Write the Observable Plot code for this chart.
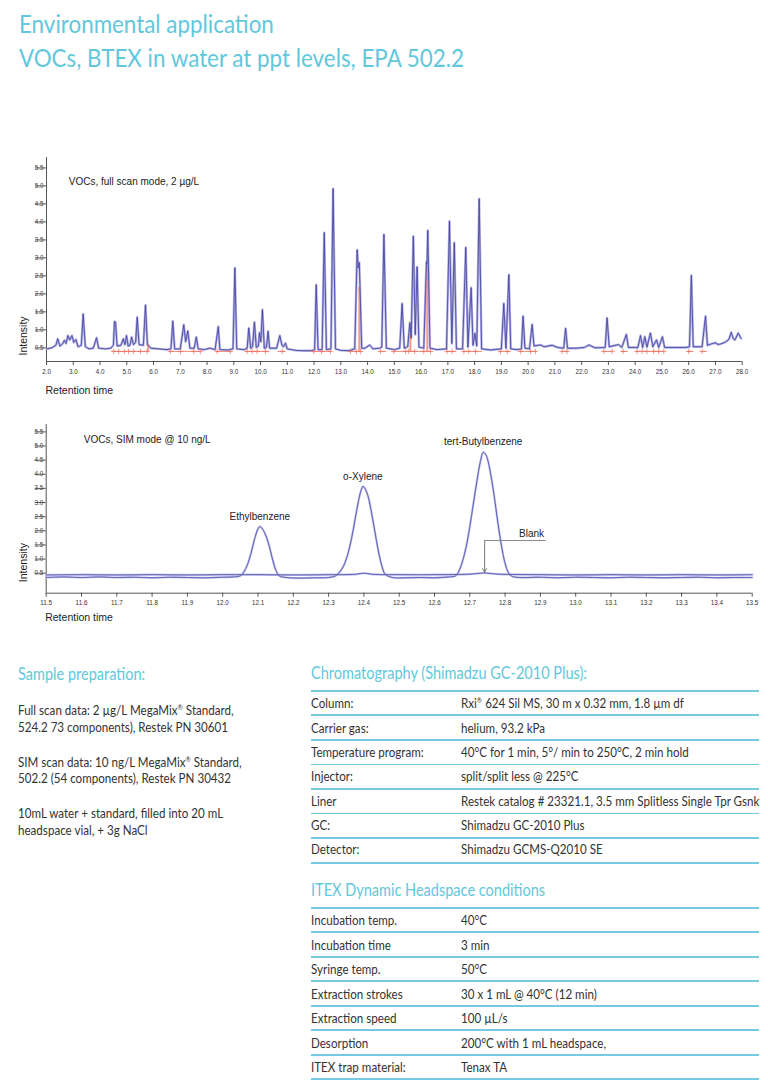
<!DOCTYPE html>
<html><head><meta charset="utf-8">
<script src="https://cdn.jsdelivr.net/npm/d3@7"></script>
<script src="https://cdn.jsdelivr.net/npm/@observablehq/plot@0.6"></script>
<style>
html,body{margin:0;padding:0;background:#fff;}
body{width:768px;height:1090px;position:relative;overflow:hidden;font-family:Lato,"Open Sans",sans-serif;}
.t{position:absolute;white-space:nowrap;line-height:normal;transform-origin:0 50%;}
.bl{display:inline-block;width:0;height:0;vertical-align:baseline;}
.title{font-size:25px;font-weight:400;color:#62c7dd;}
.head{font-size:16.3px;font-weight:400;color:#62c7dd;}
.body{font-size:13.6px;font-weight:400;color:#333;}
sup{font-size:0.55em;vertical-align:0.7em;line-height:0;}
.rule{position:absolute;height:1.8px;background:#74cbe0;}
.chart{position:absolute;left:0;}
</style></head><body>
<div id="topChart" class="chart" style="top:140px"></div>
<div id="simChart" class="chart" style="top:415px"></div>
<script>
// ---------------- DATA ----------------
// Full scan chromatogram (retention time [min], intensity)
const fullScan = [
[2.0,0.60],[2.2,0.63],[2.35,0.70],[2.42,0.88],[2.5,0.68],[2.6,0.74],[2.67,0.84],[2.73,0.75],[2.8,0.97],[2.87,0.85],
[2.95,0.97],[3.02,0.78],[3.1,0.86],[3.18,0.66],[3.3,0.70],[3.37,1.57],[3.45,0.66],[3.6,0.60],[3.75,0.62],[3.87,0.91],
[3.95,0.62],[4.2,0.60],[4.4,0.62],[4.5,0.70],[4.54,1.36],[4.58,1.34],[4.64,0.68],[4.78,0.70],[4.87,0.88],[4.93,0.72],
[4.99,0.97],[5.05,0.68],[5.12,0.70],[5.18,0.93],[5.25,0.72],[5.33,0.78],[5.39,1.48],[5.46,0.72],[5.62,0.70],[5.70,1.82],
[5.77,0.72],[5.9,0.62],[6.2,0.60],[6.5,0.58],[6.65,0.60],[6.72,1.37],[6.79,0.60],[7.0,0.60],[7.13,1.27],[7.2,0.80],
[7.28,1.10],[7.36,0.62],[7.52,0.62],[7.60,0.93],[7.67,0.60],[7.9,0.58],[8.1,0.62],[8.3,0.58],[8.42,1.22],[8.48,0.58],
[8.8,0.57],[8.97,0.60],[9.04,2.85],[9.11,0.60],[9.4,0.58],[9.5,0.62],[9.56,1.18],[9.63,0.62],[9.7,0.66],[9.77,1.34],
[9.84,0.64],[9.92,0.68],[9.96,1.05],[10.01,0.80],[10.07,1.69],[10.14,0.62],[10.22,0.64],[10.28,1.09],[10.34,0.62],[10.6,0.62],
[10.72,0.97],[10.8,0.70],[10.86,0.66],[10.93,0.76],[11.0,0.60],[11.3,0.56],[11.6,0.55],[11.9,0.55],[12.02,0.58],[12.08,2.38],
[12.15,0.58],[12.3,0.58],[12.38,3.83],[12.46,0.58],[12.63,0.60],[12.71,5.05],[12.8,0.60],[13.0,0.56],[13.3,0.55],[13.52,0.60],
[13.61,3.35],[13.65,2.85],[13.69,3.0],[13.78,0.62],[13.9,0.62],[14.08,0.71],[14.2,0.60],[14.45,0.62],[14.53,0.65],[14.61,3.78],
[14.7,0.62],[15.0,0.58],[15.2,0.62],[15.29,1.86],[15.37,0.62],[15.5,0.66],[15.58,1.33],[15.63,0.90],[15.71,3.73],[15.78,1.0],
[15.85,2.88],[15.92,0.65],[16.1,0.62],[16.20,3.02],[16.22,2.95],[16.25,3.89],[16.33,0.62],[16.6,0.58],[16.95,0.60],[17.06,4.15],
[17.15,0.75],[17.24,3.55],[17.32,0.60],[17.55,0.60],[17.67,3.42],[17.75,0.65],[17.87,2.30],[17.94,0.70],[18.01,1.03],[18.08,0.68],
[18.17,4.77],[18.26,0.60],[18.6,0.57],[19.0,0.60],[19.09,1.86],[19.17,0.62],[19.28,2.66],[19.35,0.60],[19.6,0.58],[19.75,0.60],
[19.81,1.51],[19.88,0.62],[20.05,0.60],[20.15,1.28],[20.22,0.68],[20.46,0.71],[20.6,0.66],[20.9,0.70],[21.1,0.64],[21.33,0.62],
[21.40,1.17],[21.47,0.62],[21.8,0.62],[22.1,0.64],[22.27,0.71],[22.5,0.63],[22.88,0.64],[22.95,1.46],[23.03,0.66],[23.38,0.72],
[23.5,0.64],[23.67,1.0],[23.75,0.64],[24.1,0.64],[24.2,0.97],[24.28,0.64],[24.36,0.94],[24.44,0.65],[24.57,1.04],[24.66,0.66],
[24.8,0.85],[24.88,0.64],[25.02,0.94],[25.1,0.64],[25.5,0.64],[25.9,0.64],[26.03,0.66],[26.10,2.64],[26.17,0.66],[26.5,0.66],
[26.63,1.51],[26.7,0.70],[26.85,0.74],[27.0,0.77],[27.1,0.72],[27.2,0.74],[27.35,0.78],[27.5,0.86],[27.59,1.06],[27.67,0.88],
[27.73,0.85],[27.85,1.04],[27.96,0.89]
];
// integration baselines (start, end) and peak markers
const integrationSegments = [[4.45,5.82],[6.6,7.77],[8.35,8.9],[9.45,10.35],[10.65,10.95],[11.97,12.63],[13.35,13.8],[14.45,14.72],
[14.98,16.4],[16.95,17.34],[17.58,18.3],[18.95,19.37],[19.7,20.3],[21.25,21.5],[22.8,23.15],[23.5,23.75],[24.05,25.1],[25.98,26.2],[26.5,26.7]];
const integrationMarks = [4.52,4.70,4.91,5.07,5.26,5.51,5.76,6.63,7.01,7.50,7.75,8.38,8.87,9.50,9.69,9.87,10.18,10.81,11.99,12.28,12.61,
13.36,13.58,13.73,14.48,14.98,15.42,15.54,15.76,16.10,16.35,16.97,17.16,17.60,17.78,18.03,18.97,19.22,19.71,20.09,20.27,21.27,21.45,
22.83,23.14,23.55,24.07,24.26,24.44,24.69,24.88,25.07,26.00,26.50];
const integratedPeaks = [[5.80,0.72],[13.69,2.31],[15.60,1.00],[16.23,2.92]];
const integrationLevel = 0.53;

// SIM mode chromatogram (retention time, intensity)
const simScan = [
[11.50,0.50],[11.55,0.52],[11.60,0.50],[11.65,0.52],[11.70,0.50],[11.75,0.51],[11.80,0.49],[11.85,0.51],[11.90,0.50],[11.95,0.49],
[12.00,0.51],[12.03,0.52],[12.05,0.56],[12.06,0.70],[12.07,0.95],[12.08,1.35],[12.09,1.85],[12.10,2.22],[12.105,2.30],[12.11,2.26],
[12.12,2.05],[12.13,1.70],[12.14,1.20],[12.15,0.78],[12.16,0.56],[12.18,0.50],[12.22,0.48],[12.26,0.49],[12.30,0.50],[12.32,0.56],
[12.34,0.85],[12.35,1.15],[12.36,1.60],[12.37,2.20],[12.38,2.90],[12.39,3.50],[12.397,3.72],[12.40,3.70],[12.41,3.45],[12.42,2.90],
[12.43,2.20],[12.44,1.50],[12.45,0.95],[12.46,0.62],[12.48,0.50],[12.52,0.49],[12.56,0.50],[12.60,0.49],[12.64,0.52],[12.66,0.56],
[12.67,0.75],[12.68,1.10],[12.69,1.60],[12.70,2.30],[12.71,3.10],[12.72,3.90],[12.73,4.60],[12.738,4.93],[12.745,4.85],[12.75,4.70],
[12.76,4.10],[12.77,3.30],[12.78,2.40],[12.79,1.60],[12.80,1.00],[12.81,0.66],[12.82,0.54],[12.84,0.50],[12.90,0.51],[12.95,0.49],
[13.00,0.51],[13.05,0.50],[13.10,0.49],[13.15,0.51],[13.20,0.50],[13.25,0.49],[13.30,0.50],[13.35,0.51],[13.40,0.49],[13.45,0.50],[13.50,0.50]
];
const blankScan = [
[11.5,0.59],[11.6,0.60],[11.7,0.59],[11.8,0.60],[11.9,0.59],[12.0,0.60],[12.1,0.60],[12.2,0.59],[12.3,0.60],[12.37,0.61],[12.40,0.65],
[12.43,0.61],[12.5,0.60],[12.6,0.60],[12.7,0.62],[12.74,0.66],[12.78,0.62],[12.9,0.60],[13.0,0.59],[13.1,0.60],[13.2,0.59],[13.3,0.60],
[13.4,0.59],[13.5,0.60]
];
const peakNames = ["Ethylbenzene","o-Xylene","tert-Butylbenzene"];
const peakTimes = [12.105,12.397,12.738];
const peakHeights = [2.30,3.72,4.93];
const blankNote = {label:"Blank", labelTime:12.875, leaderFrom:12.914, leaderTo:12.742, leaderLevel:1.81, arrowTip:0.69};

// ticks
const fullTicksX = [2,3,4,5,6,7,8,9,10,11,12,13,14,15,16,17,18,19,20,21,22,23,24,25,26,27,28];
const simTicksX = [11.5,11.6,11.7,11.8,11.9,12.0,12.1,12.2,12.3,12.4,12.5,12.6,12.7,12.8,12.9,13.0,13.1,13.2,13.3,13.4,13.5];
const ticksY = [0.5,1.0,1.5,2.0,2.5,3.0,3.5,4.0,4.5,5.0,5.5];

// text content
const pageTitle = ["Environmental application","VOCs, BTEX in water at ppt levels, EPA 502.2"];
const sampleHeading = "Sample preparation:";
const sampleLines = ["Full scan data: 2 µg/L MegaMix® Standard,","524.2 73 components), Restek PN 30601",
"SIM scan data: 10 ng/L MegaMix® Standard,","502.2 (54 components), Restek PN 30432",
"10mL water + standard, filled into 20 mL","headspace vial, + 3g NaCl"];
const chromHeading = "Chromatography (Shimadzu GC-2010 Plus):";
const chromLabels = ["Column:","Carrier gas:","Temperature program:","Injector:","Liner","GC:","Detector:"];
const chromValues = ["Rxi® 624 Sil MS, 30 m x 0.32 mm, 1.8 µm df","helium, 93.2 kPa","40°C for 1 min, 5°/ min to 250°C, 2 min hold",
"split/split less @ 225°C","Restek catalog # 23321.1, 3.5 mm Splitless Single Tpr Gsnk","Shimadzu GC-2010 Plus","Shimadzu GCMS-Q2010 SE"];
const itexHeading = "ITEX Dynamic Headspace conditions";
const itexLabels = ["Incubation temp.","Incubation time","Syringe temp.","Extraction strokes","Extraction speed","Desorption","ITEX trap material:"];
const itexValues = ["40°C","3 min","50°C","30 x 1 mL @ 40°C (12 min)","100 µL/s","200°C with 1 mL headspace,","Tenax TA"];

// ---------------- CHARTS ----------------
const chartFont = "'Liberation Sans', Arial, sans-serif";
const fmt = d => d.toFixed(1);
const fullRows = fullScan.map(([t,v]) => ({t, v}));
const segRows = integrationSegments.map(([a,b]) => ({a, b}));
const intRows = integratedPeaks.map(([t,v]) => ({t, v}));

const topPlot = Plot.plot({
  width: 768, height: 265,
  marginLeft: 46, marginRight: 26.3, marginTop: 17, marginBottom: 44,
  x: {domain: [2, 28]},
  y: {domain: [0.25, 5.917]},
  style: {fontFamily: chartFont, background: "transparent", overflow: "visible"},
  marks: [
    Plot.ruleX([2], {stroke: "#555", strokeWidth: 1}),
    Plot.ruleY([0.25], {stroke: "#555", strokeWidth: 1}),
    Plot.axisY({ticks: ticksY, tickFormat: fmt, tickSize: 11, tickPadding: -8, dy: -4.6, fontSize: 6.3, stroke: "#555", fill: "#444", label: null}),
    Plot.axisX({ticks: fullTicksX, tickFormat: fmt, tickSize: 4, tickPadding: 4.5, fontSize: 6.3, stroke: "#555", fill: "#333", label: null}),
    Plot.line(fullRows, {x: "t", y: "v", stroke: "#b3b1e3", strokeWidth: 2.4}),
    Plot.ruleX(intRows, {x: "t", y1: integrationLevel, y2: "v", stroke: "#f2897a", strokeWidth: 2, strokeOpacity: 0.85}),
    Plot.ruleY(segRows, {x1: "a", x2: "b", y: integrationLevel, stroke: "#f0705f", strokeWidth: 0.9, strokeOpacity: 0.9}),
    Plot.line(fullRows, {x: "t", y: "v", stroke: "#3d3f9d", strokeWidth: 0.8}),
    Plot.dot(integrationMarks, {x: d => d, y: integrationLevel, symbol: "plus", r: 1.9, stroke: "#f0705f", strokeWidth: 0.8, strokeOpacity: 0.9}),
    Plot.text(["VOCs, full scan mode, 2 µg/L"], {frameAnchor: "top-left", dx: 22.3, dy: 24.7, textAnchor: "start", lineAnchor: "middle", fontSize: 10, fill: "#222"}),
    Plot.text(["Intensity"], {frameAnchor: "bottom-left", dx: -23, dy: -6, rotate: -90, textAnchor: "start", lineAnchor: "middle", fontSize: 10.5, fill: "#222"}),
    Plot.text(["Retention time"], {frameAnchor: "bottom-left", dx: -1, dy: 29, textAnchor: "start", lineAnchor: "middle", fontSize: 10.5, fill: "#222"})
  ]
});
document.getElementById("topChart").appendChild(topPlot);

const simRows = simScan.map(([t,v]) => ({t, v}));
const blankRows = blankScan.map(([t,v]) => ({t, v}));
const peakRows = peakNames.map((name,i) => ({name, t: peakTimes[i], v: peakHeights[i]}));

const simPlot = Plot.plot({
  width: 768, height: 215,
  marginLeft: 45.7, marginRight: 16.3, marginTop: 9, marginBottom: 37.3,
  x: {domain: [11.5, 13.5]},
  y: {domain: [-0.055, 5.912]},
  style: {fontFamily: chartFont, background: "transparent", overflow: "visible"},
  marks: [
    Plot.ruleX([11.5], {stroke: "#555", strokeWidth: 1}),
    Plot.ruleY([-0.055], {stroke: "#555", strokeWidth: 1}),
    Plot.axisY({ticks: ticksY, tickFormat: fmt, tickSize: 11, tickPadding: -8, dy: -4.3, fontSize: 6.3, stroke: "#555", fill: "#444", label: null}),
    Plot.axisX({ticks: simTicksX, tickFormat: fmt, tickSize: 4, tickPadding: 3, fontSize: 6.3, stroke: "#555", fill: "#333", label: null}),
    Plot.line(blankRows, {x: "t", y: "v", stroke: "#c2c1ea", strokeWidth: 2.2, curve: "catmull-rom"}),
    Plot.line(simRows, {x: "t", y: "v", stroke: "#c2c1ea", strokeWidth: 2.2, curve: "catmull-rom"}),
    Plot.line(blankRows, {x: "t", y: "v", stroke: "#5557b0", strokeWidth: 0.9, curve: "catmull-rom"}),
    Plot.line(simRows, {x: "t", y: "v", stroke: "#5557b0", strokeWidth: 0.9, curve: "catmull-rom"}),
    Plot.text(peakRows, {x: "t", y: "v", text: "name", dy: -10, lineAnchor: "middle", fontSize: 10, fill: "#222"}),
    Plot.line([[blankNote.leaderFrom, blankNote.leaderLevel],[blankNote.leaderTo, blankNote.leaderLevel]], {stroke: "#8a8a8a", strokeWidth: 1}),
    Plot.arrow([blankNote], {x1: "leaderTo", x2: "leaderTo", y1: "leaderLevel", y2: "arrowTip", stroke: "#777", strokeWidth: 1, headLength: 6}),
    Plot.text([blankNote], {x: "labelTime", y: "leaderLevel", text: "label", dy: -7, lineAnchor: "middle", fontSize: 10, fill: "#222"}),
    Plot.text(["VOCs, SIM mode @ 10 ng/L"], {frameAnchor: "top-left", dx: 37.6, dy: 15.3, textAnchor: "start", lineAnchor: "middle", fontSize: 10, fill: "#222"}),
    Plot.text(["Intensity"], {frameAnchor: "bottom-left", dx: -23, dy: -11, rotate: -90, textAnchor: "start", lineAnchor: "middle", fontSize: 10.5, fill: "#222"}),
    Plot.text(["Retention time"], {frameAnchor: "bottom-left", dx: -1, dy: 24.6, textAnchor: "start", lineAnchor: "middle", fontSize: 10.5, fill: "#222"})
  ]
});
document.getElementById("simChart").appendChild(simPlot);

// ---------------- PAGE TEXT ----------------
const groups = {title: [], head: [], body: []};
function esc(s){ return s.replace(/&/g,"&amp;").replace(/</g,"&lt;").replace(/®/g,"<sup>®</sup>"); }
function place(text, x, baseline, cls){
  const d = document.createElement("div");
  d.className = "t " + cls;
  d.innerHTML = esc(text) + '<span class="bl"></span>';
  d.style.left = x + "px"; d.style.top = "0px";
  document.body.appendChild(d);
  const off = d.querySelector(".bl").getBoundingClientRect().bottom - d.getBoundingClientRect().top;
  d.style.top = (baseline - off) + "px";
  groups[cls].push(d);
  return d;
}
function rule(x, y, w){
  const r = document.createElement("div");
  r.className = "rule";
  r.style.left = x + "px"; r.style.top = (y - 0.9) + "px"; r.style.width = w + "px";
  document.body.appendChild(r);
}
const t1 = place(pageTitle[0], 18.5, 33, "title");
const t2 = place(pageTitle[1], 18.5, 66.7, "title");
place(sampleHeading, 18, 680, "head");
const h2 = place(chromHeading, 310.7, 679.3, "head");
place(itexHeading, 310.7, 896, "head");
const sampleBase = [715, 731.7, 766.7, 783.3, 818.3, 835];
sampleLines.forEach((s,i) => place(s, 18, sampleBase[i], "body"));
let refBody = null;
chromLabels.forEach((s,i) => {
  const d = place(s, 310.7, 708.3 + i*24.3, "body");
  if (i === 2) refBody = d;
  place(chromValues[i], 461, 708.3 + i*24.3, "body");
});
for (let i = 0; i < 8; i++) rule(310.7, 690.7 + i*24.57, 448.6);
itexLabels.forEach((s,i) => {
  place(s, 310.7, 925 + i*24.55, "body");
  place(itexValues[i], 461, 925 + i*24.55, "body");
});
for (let i = 0; i < 8; i++) rule(310.7, 907.7 + i*24.51, 448.6);

function fit(cls, ref, target){
  const f = target / ref.getBoundingClientRect().width;
  groups[cls].forEach(d => d.style.transform = "scaleX(" + f + ")");
}
fit("title", t2, 445);
fit("head", h2, 276);
fit("body", refBody, 112.7);
</script>
</body></html>
